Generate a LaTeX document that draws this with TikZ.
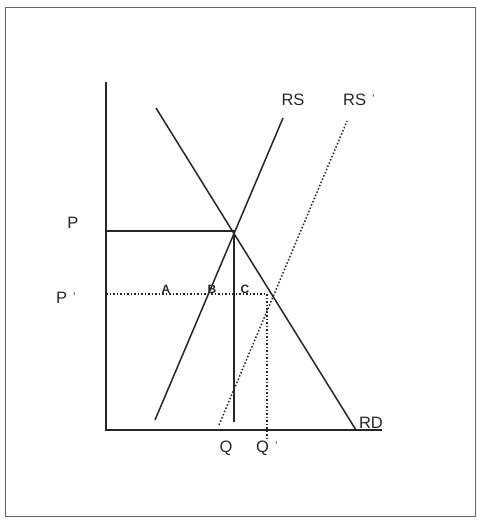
\documentclass[tikz,border=0pt]{standalone}
\usepackage{fontspec}
\setmainfont{Liberation Sans}
\usetikzlibrary{positioning, calc}
\newcommand{\primeMark}{\hspace{6pt}\raisebox{3pt}{\fontsize{11}{11}\selectfont'}}
\tikzset{
    % Lines
    axisLine/.style={line width=1.7pt, black!85},
    curve/.style={line width=1.5pt, black!85},
    dotCurve/.style={line width=1.5pt, black!85, dotted},
    frameBox/.style={draw=black!60, line width=0.9pt},
    % Labels
    lbl/.style={font=\fontsize{16.5}{16.5}\selectfont, inner sep=0pt, text=black!85},
    smallLbl/.style={font=\fontsize{12}{12}\selectfont\bfseries, inner sep=0pt, text=black!85}
}

\begin{document}
\begin{tikzpicture}[x=1pt, y=-1pt]

\useasboundingbox (0,0) rectangle (477,523);
\draw[frameBox] (5,7) rectangle (475,516);

% Axes
\coordinate (O) at (106,430);
\coordinate (yTop) at (106,82);
\coordinate (xEnd) at (382,430);
\draw[axisLine] (yTop) -- (O) -- (xEnd);

% Curves
\coordinate (rdTop) at (156,108);
\coordinate (rdEnd) at (356,430);
\coordinate (rsBot) at (155,420);
\coordinate (rsTop) at (283,118);
\coordinate (rs2Bot) at (219,425);
\coordinate (rs2Top) at (347,121);
\coordinate (E) at (234,231);
\coordinate (E2) at (267,294);

\draw[curve] (rdTop) -- (rdEnd);
\draw[curve] (rsBot) -- (rsTop);
\draw[dotCurve] (rs2Bot) -- (rs2Top);

% Price and quantity lines
\coordinate (pAx) at (106,231);
\coordinate (qFoot) at (234,422);
\coordinate (p2Ax) at (106,294);
\coordinate (q2Foot) at (267,440);
\draw[curve] (pAx) -- (E) -- (qFoot);
\draw[dotCurve] (p2Ax) -- (E2) -- (q2Foot);

% Labels
\node[lbl] (p) at (73,223) {P};
\node[lbl, anchor=west] (p2) at (56,298) {P\primeMark};
\node[smallLbl] (a) at (166,289) {A};
\node[smallLbl] (b) at (212,289) {B};
\node[smallLbl] (c) at (245,289) {C};
\node[lbl] (q) at (226,448) {Q};
\node[lbl, anchor=west] (q2) at (256,448) {Q\primeMark};
\node[lbl] (rs) at (293,100) {RS};
\node[lbl, anchor=west] (rs2) at (343,100) {RS\primeMark};
\node[lbl] (rd) at (371,423) {RD};

\end{tikzpicture}
\end{document}
